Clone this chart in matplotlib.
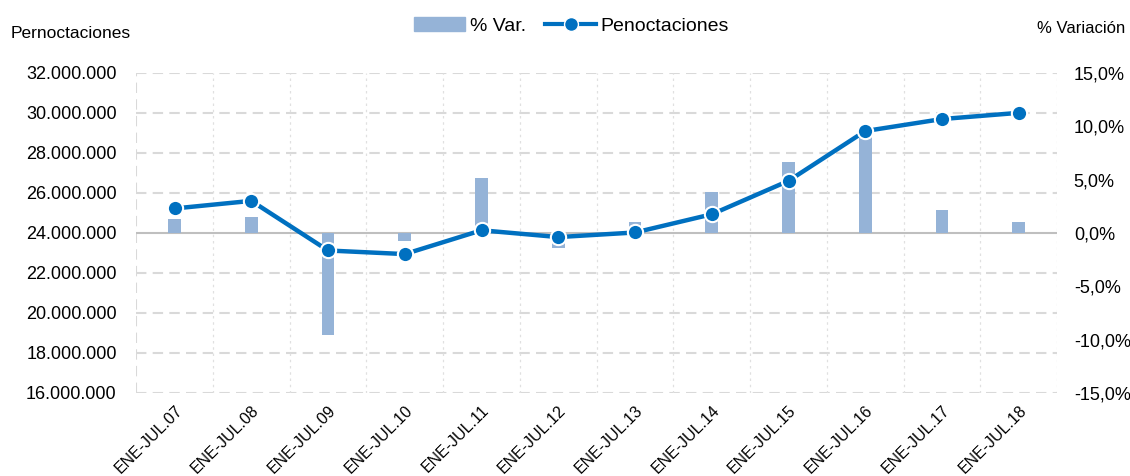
import matplotlib.pyplot as plt
from matplotlib.ticker import FuncFormatter
from matplotlib.lines import Line2D
from matplotlib.patches import Patch

periodos = ['ENE-JUL.07', 'ENE-JUL.08', 'ENE-JUL.09', 'ENE-JUL.10', 'ENE-JUL.11', 'ENE-JUL.12',
            'ENE-JUL.13', 'ENE-JUL.14', 'ENE-JUL.15', 'ENE-JUL.16', 'ENE-JUL.17', 'ENE-JUL.18']
pernoctaciones = [25220000, 25600000, 23120000, 22940000, 24130000, 23790000,
                  24020000, 24930000, 26600000, 29090000, 29690000, 30000000]
variacion = [1.3, 1.5, -9.6, -0.8, 5.1, -1.4, 1.0, 3.8, 6.6, 9.3, 2.1, 1.0]

plt.rcParams['font.family'] = ['Liberation Sans', 'DejaVu Sans']
plt.rcParams['font.size'] = 13

COLOR_LINEA = '#0070C0'
COLOR_BARRA = '#95B3D7'
GRIS = '#D9D9D9'

fig, ax = plt.subplots(figsize=(11.3, 4.76), dpi=100)
fig.subplots_adjust(left=0.1205, right=0.9355, top=0.847, bottom=0.1745)
ax2 = ax.twinx()

x = list(range(len(periodos)))

# barras en el eje derecho
ax2.bar(x, variacion, width=0.165, color=COLOR_BARRA, zorder=2)
ax2.axhline(0, color='#BFBFBF', lw=1.5, zorder=1)
ax2.set_ylim(-15, 15)
ax2.set_yticks([-15, -10, -5, 0, 5, 10, 15])
ax2.yaxis.set_major_formatter(FuncFormatter(lambda v, p: f'{v:.1f}%'.replace('.', ',')))

# línea en el eje izquierdo (dibujada encima)
ax.set_zorder(ax2.get_zorder() + 1)
ax.patch.set_visible(False)
ax.plot(x, pernoctaciones, color=COLOR_LINEA, lw=3.2, marker='o', markersize=11,
        markerfacecolor=COLOR_LINEA, markeredgecolor='white', markeredgewidth=1.5, zorder=3)
ax.set_ylim(16000000, 32000000)
ax.set_yticks(range(16000000, 32000001, 2000000))
ax.yaxis.set_major_formatter(FuncFormatter(lambda v, p: f'{int(v):,}'.replace(',', '.')))
ax.set_xlim(-0.5, len(periodos) - 0.5)

# rejilla
for v in range(18000000, 32000001, 2000000):
    if v != 24000000:
        ax2.axhline((v - 24000000) / 8000000 * 15, color=GRIS, lw=1.5, ls=(0, (5, 3)), zorder=0)
ax2.axhline(-15, color=GRIS, lw=1.5, ls=(0, (5, 3)), zorder=0)
for i in range(len(periodos)):
    ax2.axvline(i + 0.5, color='#E0E0E0', lw=0.9, ls=(0, (2, 3)), zorder=0)
ax2.axvline(-0.5, color=GRIS, lw=1.5, ls=(0, (5, 3)), zorder=0)

ax.set_xticks(x)
ax.set_xticklabels(periodos, rotation=45, ha='right', va='top', rotation_mode='anchor',
                   fontsize=11.5)
for a in (ax, ax2):
    for s in a.spines.values():
        s.set_visible(False)
    a.tick_params(length=0, colors='black')
ax.tick_params(axis='y', pad=14)
ax2.tick_params(axis='y', pad=12)
ax.tick_params(axis='x', pad=7)

fig.text(0.009, 0.93, 'Pernoctaciones', fontsize=12.5, va='center')
fig.text(0.996, 0.94, '% Variación', fontsize=12, va='center', ha='right')

handles = [Patch(color=COLOR_BARRA),
           Line2D([], [], color=COLOR_LINEA, lw=3, marker='o', markersize=10,
                  markerfacecolor=COLOR_LINEA, markeredgecolor='white')]
fig.legend(handles, ['% Var.', 'Penoctaciones'], loc='center', bbox_to_anchor=(0.506, 0.946),
           ncol=2, frameon=False, fontsize=14, handlelength=2.6, columnspacing=1.0, handletextpad=0.25)

fig.savefig('out.png', dpi=100)
